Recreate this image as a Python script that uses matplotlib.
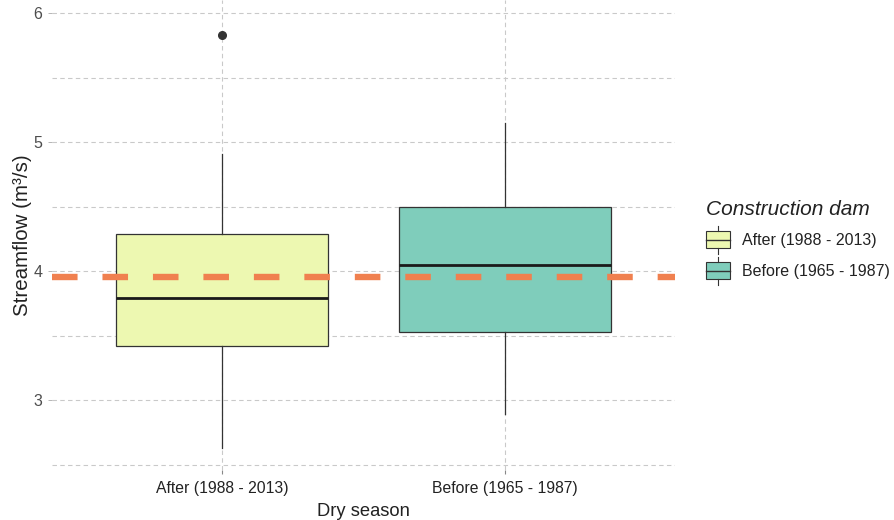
import matplotlib
matplotlib.use("Agg")
import matplotlib.pyplot as plt
from matplotlib.legend_handler import HandlerBase
from matplotlib.patches import Rectangle
from matplotlib.lines import Line2D

plt.rcParams['font.family'] = ['Liberation Sans', 'DejaVu Sans']

# ---- data ----
categories = ["After (1988 - 2013)", "Before (1965 - 1987)"]
q1 = [3.42, 3.53]
median = [3.79, 4.05]
q3 = [4.29, 4.50]
whisker_low = [2.63, 2.89]
whisker_high = [4.91, 5.15]
outliers = [[5.83], []]
fills = ["#EDF8B1", "#7FCDBB"]
reference_level = 3.95
y_ticks = [3, 4, 5, 6]
y_minor = [2.5, 3.5, 4.5, 5.5]

fig = plt.figure(figsize=(8.95, 5.2), dpi=100)
ax = fig.add_axes([52/895, 1 - 470/520, (675-52)/895, 470/520])

grid_kw = dict(color="#C9C9C9", lw=0.8, ls=(0, (4, 3)), zorder=0)
for y in y_ticks + y_minor:
    ax.axhline(y, **grid_kw)
positions = [1, 2]
for x in positions:
    ax.axvline(x, **grid_kw)

stats = []
for i in range(len(categories)):
    stats.append(dict(med=median[i], q1=q1[i], q3=q3[i],
                      whislo=whisker_low[i], whishi=whisker_high[i],
                      fliers=outliers[i], label=categories[i]))

bp = ax.bxp(stats, positions=positions, widths=0.75, patch_artist=True,
            showcaps=False, zorder=2,
            boxprops=dict(edgecolor="#333333", linewidth=0.9),
            medianprops=dict(color="#1a1a1a", linewidth=2.0),
            whiskerprops=dict(color="#333333", linewidth=0.9),
            flierprops=dict(marker="o", markersize=5.5, markerfacecolor="#333333",
                            markeredgecolor="#333333"))
for patch, c in zip(bp["boxes"], fills):
    patch.set_facecolor(c)

ax.axhline(reference_level, color="#F0804F", lw=4.6, ls=(0, (4.0, 3.9)),
           zorder=5, solid_capstyle="butt", dash_capstyle="butt")

ax.set_xlim(0.4, 2.6)
ax.set_ylim(6 - (470 - 13) / 129, 6 + 13 / 129)
ax.set_xticks(positions)
ax.set_xticklabels(categories, fontsize=11.3, color="#222222")
ax.set_yticks(y_ticks)
ax.set_yticklabels([str(t) for t in y_ticks], fontsize=11.5, color="#4D4D4D")
ax.tick_params(axis="y", length=3, color="#AAAAAA", width=0.6, pad=4)
ax.tick_params(axis="x", length=3, color="#888888", pad=5)
for s in ax.spines.values():
    s.set_visible(False)
ax.set_xlabel("Dry season", fontsize=13.2, color="#222222", labelpad=5)
ax.set_ylabel("Streamflow (m³/s)", fontsize=14.8, color="#222222", labelpad=1)


class BoxKeyHandler(HandlerBase):
    def create_artists(self, legend, orig_handle, xdescent, ydescent, width, height,
                       fontsize, trans):
        fc = orig_handle.get_facecolor()
        h = 12.5
        y0 = -ydescent + (height - h) / 2
        rect = Rectangle((-xdescent, y0), width, h, facecolor=fc,
                         edgecolor="#333333", lw=0.8, transform=trans)
        cx = -xdescent + width / 2
        med = Line2D([-xdescent, -xdescent + width], [y0 + h / 2] * 2,
                     color="#333333", lw=1.0, transform=trans)
        wt = Line2D([cx, cx], [y0 + h, y0 + h + 4], color="#333333", lw=0.8, transform=trans)
        wb = Line2D([cx, cx], [y0 - 4, y0], color="#333333", lw=0.8, transform=trans)
        return [rect, med, wt, wb]


handles = [Rectangle((0, 0), 1, 1, facecolor=c) for c in fills]
leg = fig.legend(handles, categories, loc="upper left",
                 bbox_to_anchor=(692/895, 1 - 186/520), frameon=False,
                 handler_map={Rectangle: BoxKeyHandler()},
                 handlelength=1.5, handleheight=1.65, handletextpad=0.7,
                 labelspacing=0.62, fontsize=11.5,
                 title="Construction dam",
                 title_fontproperties=dict(size=15, style="italic"))
leg._legend_box.align = "left"
for t in leg.get_texts():
    t.set_color("#222222")
leg.get_title().set_color("#222222")

fig.savefig("out.png", dpi=100)
